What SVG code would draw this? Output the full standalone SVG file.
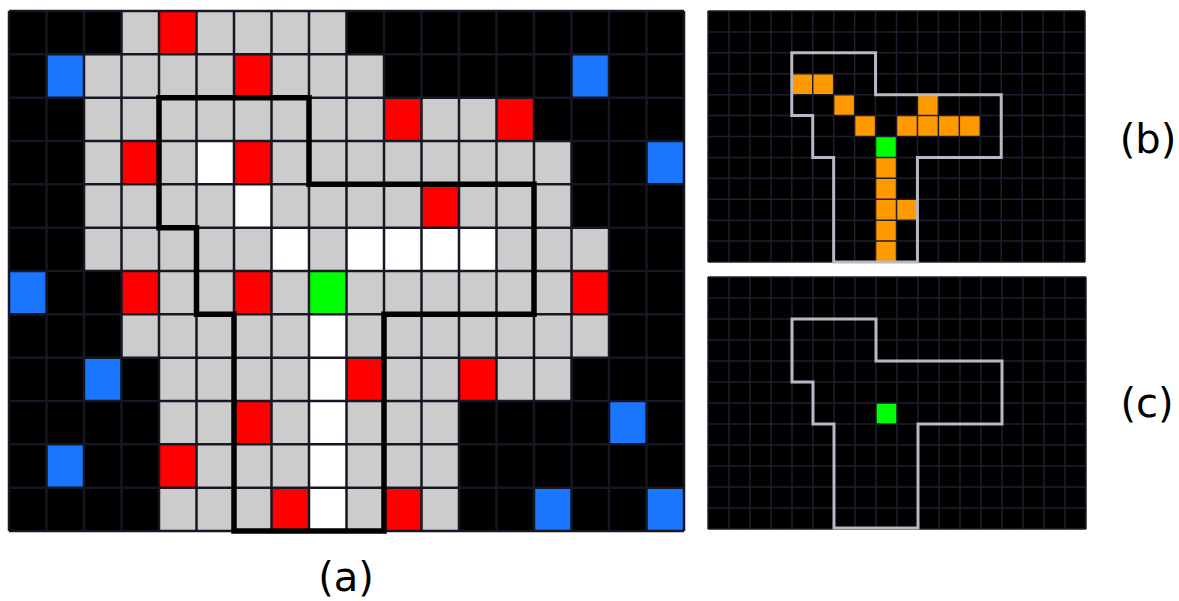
<svg xmlns="http://www.w3.org/2000/svg" width="1179" height="601" viewBox="0 0 1179 601">
<style>
.bg{fill:#000}
.g{fill:#cccccc}
.r{fill:#ff0000}
.w{fill:#ffffff}
.gr{fill:#00ff00}
.b{fill:#1a75ff}
.o{fill:#ff9900}
.gridA{fill:none;stroke:#161624;stroke-width:2.5}
.gridS{fill:none;stroke:#1e1e30;stroke-width:1.5}
.outA{fill:none;stroke:#000;stroke-width:5.5;stroke-linejoin:miter}
.outS{fill:none;stroke:#b8b8c6;stroke-width:3;stroke-linejoin:miter}
.lbl{font-family:"DejaVu Sans",sans-serif;font-size:40px;fill:#000;text-anchor:middle}
</style>
<rect width="1179" height="601" fill="#fff"/>
<g id="panel-a">
<rect class="bg" x="9" y="11" width="675" height="520"/>
<rect class="g" x="121.5" y="11" width="225" height="43.33"/>
<rect class="g" x="84" y="54.33" width="300" height="43.33"/>
<rect class="g" x="84" y="97.67" width="412.5" height="43.33"/>
<rect class="g" x="84" y="141" width="487.5" height="43.33"/>
<rect class="g" x="84" y="184.33" width="487.5" height="43.33"/>
<rect class="g" x="84" y="227.67" width="525" height="43.33"/>
<rect class="g" x="121.5" y="271" width="487.5" height="43.33"/>
<rect class="g" x="121.5" y="314.33" width="487.5" height="43.33"/>
<rect class="g" x="159" y="357.67" width="412.5" height="43.33"/>
<rect class="g" x="159" y="401" width="300" height="130"/>
<rect class="r" x="159" y="11" width="37.5" height="43.33"/>
<rect class="r" x="234" y="54.33" width="37.5" height="43.33"/>
<rect class="r" x="384" y="97.67" width="37.5" height="43.33"/>
<rect class="r" x="496.5" y="97.67" width="37.5" height="43.33"/>
<rect class="r" x="121.5" y="141" width="37.5" height="43.33"/>
<rect class="r" x="234" y="141" width="37.5" height="43.33"/>
<rect class="r" x="421.5" y="184.33" width="37.5" height="43.33"/>
<rect class="r" x="121.5" y="271" width="37.5" height="43.33"/>
<rect class="r" x="234" y="271" width="37.5" height="43.33"/>
<rect class="r" x="571.5" y="271" width="37.5" height="43.33"/>
<rect class="r" x="346.5" y="357.67" width="37.5" height="43.33"/>
<rect class="r" x="459" y="357.67" width="37.5" height="43.33"/>
<rect class="r" x="234" y="401" width="37.5" height="43.33"/>
<rect class="r" x="159" y="444.33" width="37.5" height="43.33"/>
<rect class="r" x="271.5" y="487.67" width="37.5" height="43.33"/>
<rect class="r" x="384" y="487.67" width="37.5" height="43.33"/>
<rect class="w" x="196.5" y="141" width="37.5" height="43.33"/>
<rect class="w" x="234" y="184.33" width="37.5" height="43.33"/>
<rect class="w" x="271.5" y="227.67" width="37.5" height="43.33"/>
<rect class="w" x="346.5" y="227.67" width="150" height="43.33"/>
<rect class="w" x="309" y="314.33" width="37.5" height="216.67"/>
<rect class="gr" x="309" y="271" width="37.5" height="43.33"/>
<rect class="b" x="46.5" y="54.33" width="37.5" height="43.33"/>
<rect class="b" x="571.5" y="54.33" width="37.5" height="43.33"/>
<rect class="b" x="646.5" y="141" width="37.5" height="43.33"/>
<rect class="b" x="9" y="271" width="37.5" height="43.33"/>
<rect class="b" x="84" y="357.67" width="37.5" height="43.33"/>
<rect class="b" x="609" y="401" width="37.5" height="43.33"/>
<rect class="b" x="46.5" y="444.33" width="37.5" height="43.33"/>
<rect class="b" x="534" y="487.67" width="37.5" height="43.33"/>
<rect class="b" x="646.5" y="487.67" width="37.5" height="43.33"/>
<path class="gridA" d="M9 11V531M46.5 11V531M84 11V531M121.5 11V531M159 11V531M196.5 11V531M234 11V531M271.5 11V531M309 11V531M346.5 11V531M384 11V531M421.5 11V531M459 11V531M496.5 11V531M534 11V531M571.5 11V531M609 11V531M646.5 11V531M684 11V531M9 11H684M9 54.33H684M9 97.67H684M9 141H684M9 184.33H684M9 227.67H684M9 271H684M9 314.33H684M9 357.67H684M9 401H684M9 444.33H684M9 487.67H684M9 531H684"/>
<polygon class="outA" points="159,97.67 309,97.67 309,184.33 534,184.33 534,314.33 384,314.33 384,531 234,531 234,314.33 196.5,314.33 196.5,227.67 159,227.67"/>
</g>
<g id="panel-b">
<rect class="bg" x="708" y="11" width="377" height="251"/>
<rect class="o" x="791.78" y="73.75" width="41.89" height="20.92"/>
<rect class="o" x="833.67" y="94.67" width="20.94" height="20.92"/>
<rect class="o" x="854.61" y="115.58" width="20.94" height="20.92"/>
<rect class="o" x="917.44" y="94.67" width="20.94" height="20.92"/>
<rect class="o" x="896.5" y="115.58" width="83.78" height="20.92"/>
<rect class="o" x="875.56" y="157.42" width="20.94" height="104.58"/>
<rect class="o" x="896.5" y="199.25" width="20.94" height="20.92"/>
<rect class="gr" x="875.56" y="136.5" width="20.94" height="20.92"/>
<path class="gridS" d="M708 11V262M728.94 11V262M749.89 11V262M770.83 11V262M791.78 11V262M812.72 11V262M833.67 11V262M854.61 11V262M875.56 11V262M896.5 11V262M917.44 11V262M938.39 11V262M959.33 11V262M980.28 11V262M1001.22 11V262M1022.17 11V262M1043.11 11V262M1064.06 11V262M1085 11V262M708 11H1085M708 31.92H1085M708 52.83H1085M708 73.75H1085M708 94.67H1085M708 115.58H1085M708 136.5H1085M708 157.42H1085M708 178.33H1085M708 199.25H1085M708 220.17H1085M708 241.08H1085M708 262H1085"/>
<polygon class="outS" points="791.78,52.83 875.56,52.83 875.56,94.67 1001.22,94.67 1001.22,157.42 917.44,157.42 917.44,262 833.67,262 833.67,157.42 812.72,157.42 812.72,115.58 791.78,115.58"/>
</g>
<g id="panel-c">
<rect class="bg" x="708" y="277" width="378" height="252"/>
<rect class="gr" x="876" y="403" width="21" height="21"/>
<path class="gridS" d="M708 277V529M729 277V529M750 277V529M771 277V529M792 277V529M813 277V529M834 277V529M855 277V529M876 277V529M897 277V529M918 277V529M939 277V529M960 277V529M981 277V529M1002 277V529M1023 277V529M1044 277V529M1065 277V529M1086 277V529M708 277H1086M708 298H1086M708 319H1086M708 340H1086M708 361H1086M708 382H1086M708 403H1086M708 424H1086M708 445H1086M708 466H1086M708 487H1086M708 508H1086M708 529H1086"/>
<polygon class="outS" points="792,319 876,319 876,361 1002,361 1002,424 918,424 918,528 834,528 834,424 813,424 813,382 792,382"/>
</g>
<g id="labels">
<text class="lbl" x="346" y="591">(a)</text>
<text class="lbl" x="1148" y="153">(b)</text>
<text class="lbl" x="1147" y="417">(c)</text>
</g>
</svg>
